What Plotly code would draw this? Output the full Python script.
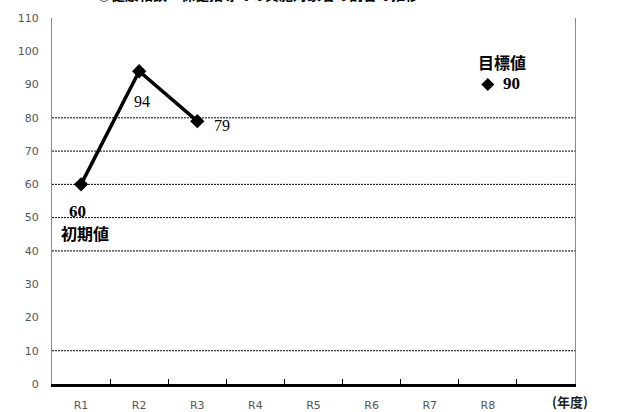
import plotly.graph_objects as go

categories = ["R1", "R2", "R3", "R4", "R5", "R6", "R7", "R8", ""]
actual_years = ["R1", "R2", "R3"]
actual_values = [60, 94, 79]
target_year = ["R8"]
target_value = [90]
grid_values = [10, 40, 50, 60, 70, 80]
y_ticks = [0, 10, 20, 30, 40, 50, 60, 70, 80, 90, 100, 110]
title_text = "○健康相談・保健指導での実施対象者の割合の推移"

fig = go.Figure()

for g in grid_values:
    fig.add_shape(type="line", xref="paper", yref="y", x0=0, x1=1, y0=g, y1=g,
                  line=dict(color="black", width=1, dash="2px,1px"), layer="below")

fig.add_trace(go.Scatter(
    x=actual_years, y=actual_values, mode="lines+markers",
    line=dict(color="black", width=3.5),
    marker=dict(symbol="diamond", size=11, color="black"),
    showlegend=False, cliponaxis=False))

fig.add_trace(go.Scatter(
    x=target_year, y=target_value, mode="markers",
    marker=dict(symbol="diamond", size=10, color="black"),
    showlegend=False))

serif = "Liberation Serif"
jp = "Noto Sans CJK JP"

fig.add_annotation(x=actual_years[1], y=actual_values[1], text=str(actual_values[1]),
                   showarrow=False, xshift=3, yshift=-30,
                   font=dict(family=serif, size=16, color="black"))
fig.add_annotation(x=actual_years[2], y=actual_values[2], text=str(actual_values[2]),
                   showarrow=False, xshift=25, yshift=-4,
                   font=dict(family=serif, size=16, color="black"))
fig.add_annotation(x=actual_years[0], y=actual_values[0], text="<b>%d</b>" % actual_values[0],
                   showarrow=False, xshift=-4, yshift=-27,
                   font=dict(family=serif, size=17, color="black"))
fig.add_annotation(x=actual_years[0], y=actual_values[0], text="<b>初期値</b>",
                   showarrow=False, xshift=4, yshift=-49,
                   font=dict(family=jp, size=16, color="black"))
fig.add_annotation(x=target_year[0], y=target_value[0], text="<b>%d</b>" % target_value[0],
                   showarrow=False, xshift=24, yshift=1,
                   font=dict(family=serif, size=17, color="black"))
fig.add_annotation(x=target_year[0], y=target_value[0], text="<b>目標値</b>",
                   showarrow=False, xshift=14, yshift=23,
                   font=dict(family=jp, size=16, color="black"))
fig.add_annotation(xref="paper", yref="paper", x=1.029, y=-0.048, text="<b>(年度)</b>",
                   showarrow=False, font=dict(family=jp, size=13, color="#222"),
                   yanchor="middle")
fig.add_annotation(xref="paper", yref="paper", x=0.394, y=1.066, text="<b>%s</b>" % title_text,
                   showarrow=False, yanchor="middle",
                   font=dict(family=jp, size=14, color="black"))

fig.update_xaxes(type="category", categoryorder="array", categoryarray=categories,
                 range=[-0.5, len(categories) - 0.5], automargin=False,
                 showline=True, linecolor="black", linewidth=3,
                 ticks="inside", tickson="boundaries", ticklen=5, tickcolor="black",
                 tickwidth=1, showgrid=False, zeroline=False, ticklabelstandoff=9,
                 tickfont=dict(family="DejaVu Sans", size=11, color="#555"))
fig.update_yaxes(range=[0, 110], tickvals=y_ticks, showgrid=False, zeroline=False,
                 automargin=False,
                 showline=True, linecolor="#888", linewidth=1, mirror=True,
                 ticks="", ticklabelstandoff=10,
                 tickfont=dict(family="DejaVu Sans", size=11, color="#555"))

fig.update_layout(width=628, height=412, margin=dict(l=52, r=53, t=18, b=28),
                  paper_bgcolor="white", plot_bgcolor="white")

fig.write_html("out.html", config={"displayModeBar": False},
               post_script="document.body.style.margin='0';document.body.style.overflow='hidden';")
